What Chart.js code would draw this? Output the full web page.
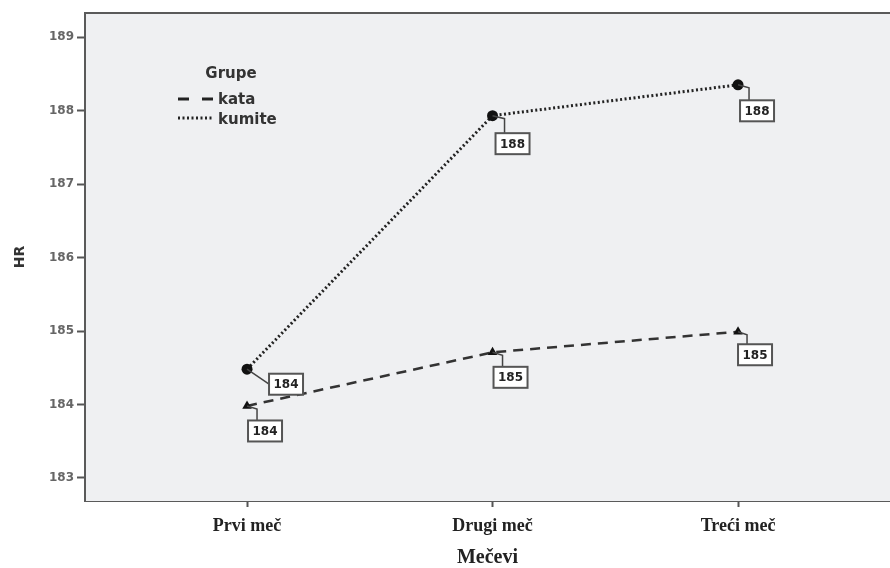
<!DOCTYPE html>
<html>
<head>
<meta charset="utf-8">
<script src="https://cdn.jsdelivr.net/npm/chart.js@4/dist/chart.umd.min.js"></script>
<style>
  html, body { margin: 0; padding: 0; background: #fff; }
  #wrap { width: 890px; height: 568px; }
</style>
</head>
<body>
<div id="wrap"><canvas id="hrChart" width="890" height="568"></canvas></div>
<script>
// Data
var categories = ["Prvi meč", "Drugi meč", "Treći meč"];
var kataValues = [183.98, 184.71, 184.99];
var kumiteValues = [184.48, 187.93, 188.35];
var yTicks = [183, 184, 185, 186, 187, 188, 189];
// End data

// label box offsets (px) from each point: [kata], [kumite]
var boxOffsets = [
  [[18, 25], [18, 25], [17, 23]],
  [[39, 15], [20, 28], [19, 26]]
];

var sansBold = '"DejaVu Sans", Verdana, sans-serif';
var serif = '"Liberation Serif", "Times New Roman", serif';

function toPoints(values) {
  return values.map(function (v, i) { return { x: i, y: v }; });
}

var plotBox = {
  id: 'plotBox',
  beforeDatasetsDraw: function (chart) {
    var a = chart.chartArea, c = chart.ctx;
    c.save();
    c.fillStyle = '#eff0f2';
    c.fillRect(a.left, a.top, a.right - a.left, a.bottom - a.top);
    c.strokeStyle = '#5a5a5a';
    c.lineWidth = 2;
    c.beginPath();
    c.moveTo(a.left, a.bottom);
    c.lineTo(a.left, a.top);
    c.lineTo(a.right, a.top);
    c.stroke();
    c.restore();
  },
  afterDatasetsDraw: function (chart) {
    var c = chart.ctx;
    c.save();
    // value boxes
    chart.data.datasets.forEach(function (ds, di) {
      var meta = chart.getDatasetMeta(di);
      meta.data.forEach(function (pt, i) {
        var off = boxOffsets[di][i];
        var w = 34, h = 21;
        var cx = pt.x + off[0], cy = pt.y + off[1];
        var bx = cx - w / 2, by = cy - h / 2;
        c.strokeStyle = '#444';
        c.lineWidth = 1.5;
        c.beginPath();
        c.moveTo(pt.x, pt.y);
        if (off[0] > 30) {
          c.lineTo(bx, cy);
        } else {
          c.lineTo(bx + 9, pt.y + 3);
          c.lineTo(bx + 9, by);
        }
        c.stroke();
        c.fillStyle = '#fff';
        c.fillRect(bx, by, w, h);
        c.lineWidth = 2;
        c.strokeStyle = '#555';
        c.strokeRect(bx, by, w, h);
        c.fillStyle = '#222';
        c.font = 'bold 12px ' + sansBold;
        c.textAlign = 'center';
        c.textBaseline = 'middle';
        c.fillText(Math.round(ds.data[i].y), cx, cy + 1);
      });
    });
    // legend
    c.fillStyle = '#333';
    c.font = 'bold 15px ' + sansBold;
    c.textAlign = 'center';
    c.textBaseline = 'middle';
    c.fillText('Grupe', 231, 74);
    c.textAlign = 'left';
    c.fillText('kata', 218, 100);
    c.fillText('kumite', 218, 120);
    c.strokeStyle = '#222';
    c.lineWidth = 3;
    c.setLineDash([11, 13]);
    c.beginPath(); c.moveTo(178, 99); c.lineTo(214, 99); c.stroke();
    c.lineWidth = 3;
    c.setLineDash([2, 2.5]);
    c.beginPath(); c.moveTo(178, 118); c.lineTo(214, 118); c.stroke();
    c.restore();
  }
};

var ctx = document.getElementById('hrChart').getContext('2d');
var hrChart = new Chart(ctx, {
  type: 'line',
  data: {
    datasets: [{
      label: 'kata',
      data: toPoints(kataValues),
      borderColor: '#333',
      backgroundColor: '#111',
      borderWidth: 2.5,
      borderDash: [10, 7],
      pointStyle: 'triangle',
      pointRadius: 5.5,
      pointBorderWidth: 0,
      tension: 0
    }, {
      label: 'kumite',
      data: toPoints(kumiteValues),
      borderColor: '#222',
      backgroundColor: '#111',
      borderWidth: 3,
      borderDash: [2, 2.5],
      pointStyle: 'circle',
      pointRadius: 5.5,
      pointBorderWidth: 0,
      tension: 0
    }]
  },
  options: {
    responsive: false,
    animation: false,
    layout: { autoPadding: false, padding: { top: 13, right: 0, left: 0, bottom: 0 } },
    plugins: { legend: { display: false }, tooltip: { enabled: false } },
    scales: {
      x: {
        type: 'linear',
        min: -0.66,
        max: 2.619,
        afterBuildTicks: function (s) { s.ticks = [0, 1, 2].map(function (v) { return { value: v }; }); },
        afterFit: function (s) { s.height = 67; },
        grid: { drawOnChartArea: false, drawTicks: true, tickLength: 6, tickColor: '#555', tickWidth: 2 },
        border: { display: true, color: '#5a5a5a', width: 2 },
        ticks: {
          padding: 9,
          color: '#222',
          font: { family: serif, size: 18, weight: 'bold' },
          callback: function (v) { return categories[v]; }
        },
        title: {
          display: true,
          text: 'Mečevi',
          color: '#222',
          padding: { top: 4, bottom: 0 },
          font: { family: serif, size: 20, weight: 'bold', lineHeight: 1 }
        }
      },
      y: {
        min: 182.687,
        max: 189.327,
        afterBuildTicks: function (s) { s.ticks = yTicks.map(function (v) { return { value: v }; }); },
        afterFit: function (s) { s.width = 85; },
        grid: { drawOnChartArea: false, drawTicks: true, tickLength: 8, tickColor: '#555', tickWidth: 2 },
        border: { display: true, color: '#5a5a5a', width: 2 },
        ticks: {
          padding: 3,
          color: '#666',
          font: { family: sansBold, size: 12, weight: 'bold' }
        },
        title: {
          display: true,
          text: 'HR',
          color: '#333',
          padding: { top: 12, bottom: 0 },
          font: { family: sansBold, size: 14, weight: 'bold' }
        }
      }
    }
  },
  plugins: [plotBox]
});
</script>
</body>
</html>
